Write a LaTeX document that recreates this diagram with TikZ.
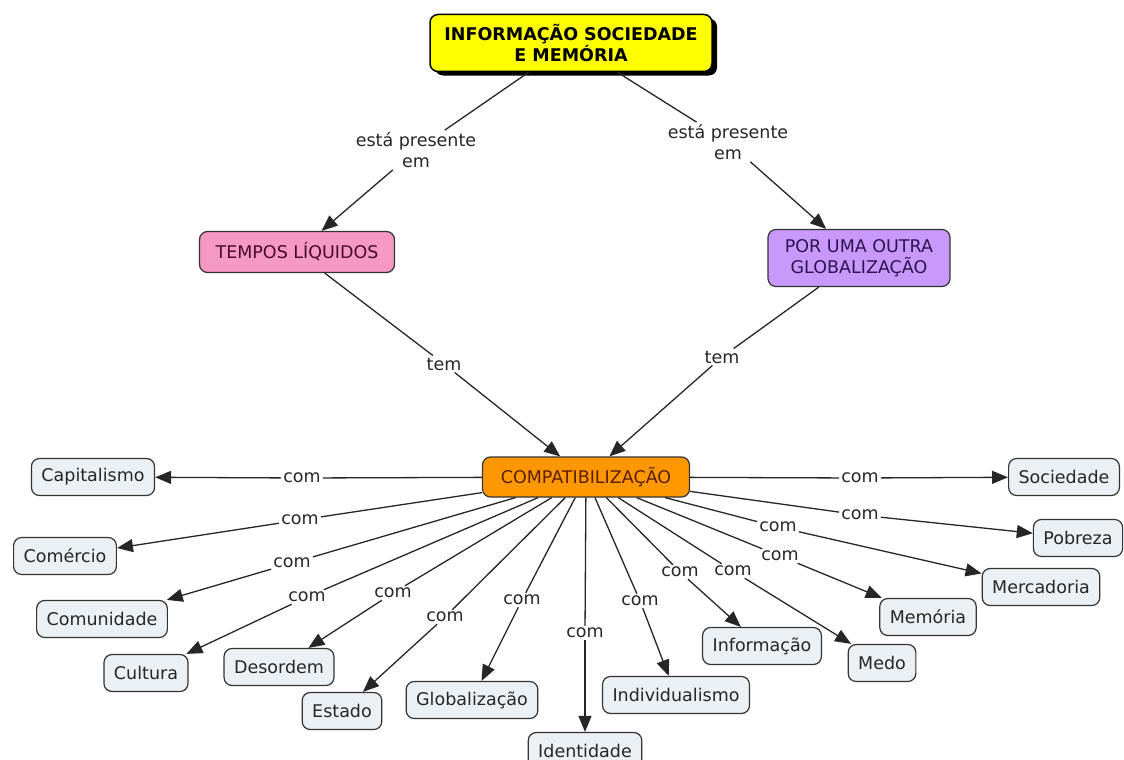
\documentclass[tikz,border=0pt]{standalone}
\usepackage{fontspec}
\setmainfont{DejaVu Sans}
\usetikzlibrary{arrows.meta,shadows}

\definecolor{mapyellow}{RGB}{255,255,0}
\definecolor{mappink}{RGB}{245,152,196}
\definecolor{maplilac}{RGB}{200,152,250}
\definecolor{maporange}{RGB}{255,152,0}
\definecolor{mapleaf}{RGB}{234,240,244}
\definecolor{pinktext}{RGB}{70,10,40}
\definecolor{lilactext}{RGB}{45,20,80}
\definecolor{orangetext}{RGB}{90,30,0}

\tikzset{
  concept/.style={
    rounded corners=8pt,
    draw=black!80,
    line width=1.2pt,
    align=center,
    inner xsep=10pt,
    inner ysep=3pt,
    minimum height=37pt,
    font=\fontsize{17.5}{21}\selectfont
  },
  concept-leaf/.style={concept, fill=mapleaf, text=black!85},
  concept-main/.style={
    concept,
    fill=mapyellow,
    draw=black,
    line width=1.5pt,
    minimum width=282pt,
    minimum height=57pt,
    font=\fontsize{17.5}{21}\selectfont\bfseries,
    drop shadow={shadow xshift=5pt, shadow yshift=-4pt, opacity=1, fill=black}
  },
  link-label/.style={inner sep=2pt, align=center, text=black!85, font=\fontsize{17.5}{21}\selectfont},
  link/.style={line width=1.3pt, draw=black!85},
  link-arrow/.style={link, -{Triangle[length=16pt,width=13pt]}}
}

\begin{document}
\begin{tikzpicture}[x=1pt, y=-1pt]
  \useasboundingbox (0,0) rectangle (1124,760);

  % --- Top concepts ---
  \node[concept-main] (info) at (571,43) {INFORMAÇÃO SOCIEDADE\\E MEMÓRIA};
  \node[concept, fill=mappink, text=pinktext, minimum width=195pt, minimum height=41pt] (tempos) at (297,252) {TEMPOS LÍQUIDOS};
  \node[concept, fill=maplilac, text=lilactext, minimum width=182pt, minimum height=57pt] (outra) at (859,258) {POR UMA OUTRA\\GLOBALIZAÇÃO};
  \node[concept, fill=maporange, text=orangetext, minimum width=207pt, minimum height=40pt] (comp) at (586,477) {COMPATIBILIZAÇÃO};

  % --- Linking phrases ---
  \node[link-label] (presente-l) at (416,150) {está presente\\em};
  \node[link-label] (presente-r) at (728,142) {está presente\\em};
  \node[link-label] (tem-l) at (444,364) {tem};
  \node[link-label] (tem-r) at (722,357) {tem};

  \draw[link] (info) -- (presente-l);
  \draw[link-arrow] (presente-l) -- (tempos);
  \draw[link] (info) -- (presente-r);
  \draw[link-arrow] (presente-r) -- (outra);
  \draw[link] (tempos) -- (tem-l);
  \draw[link-arrow] (tem-l) -- (comp);
  \draw[link] (outra) -- (tem-r);
  \draw[link-arrow] (tem-r) -- (comp);

  % --- Leaves around COMPATIBILIZAÇÃO ---
  % id / text / node x / node y / label x / label y
  \foreach \id/\txt/\x/\y/\lx/\ly in {
      cap/Capitalismo/93/477/302/478,
      come/Comércio/65/556/300/520,
      comu/Comunidade/102/619/292/563,
      cult/Cultura/146/673/307/597,
      deso/Desordem/279/667/393/593,
      esta/Estado/342/711/445/617,
      glob/Globalização/472/700/522/600,
      iden/Identidade/585/751/585/633,
      indi/Individualismo/676/695/640/601,
      info2/Informação/762/646/680/572,
      medo/Medo/882/663/733/571,
      memo/Memória/928/617/780/556,
      merc/Mercadoria/1041/587/778/527,
      pobr/Pobreza/1078/538/860/515,
      soci/Sociedade/1064/477/860/478} {
    \node[concept-leaf] (\id) at (\x,\y) {\txt};
    \node[link-label] (com-\id) at (\lx,\ly) {com};
    \draw[link] (comp) -- (com-\id);
    \draw[link-arrow] (com-\id) -- (\id);
  }
\end{tikzpicture}
\end{document}
